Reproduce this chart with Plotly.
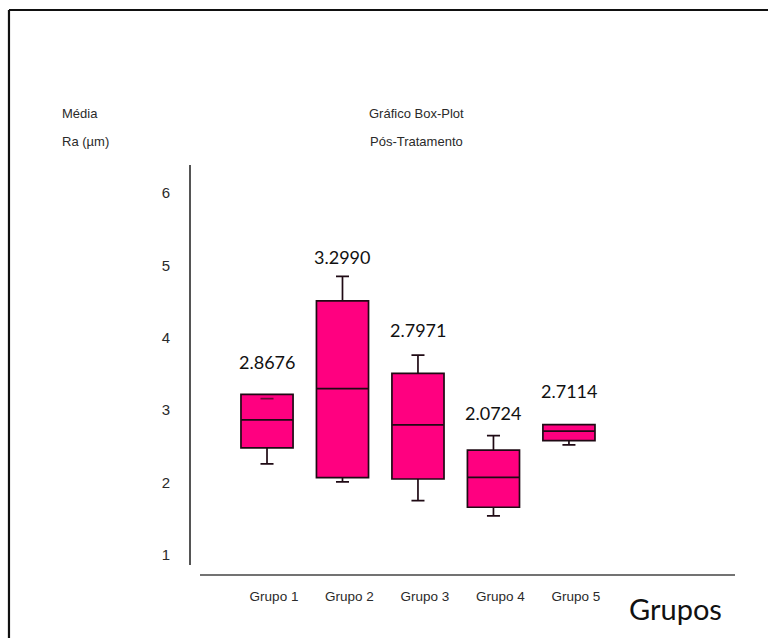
import plotly.graph_objects as go

# Resumo por grupo (Ra em µm, pós-tratamento)
grupos = ["Grupo 1", "Grupo 2", "Grupo 3", "Grupo 4", "Grupo 5"]
minimo = [2.26, 2.01, 1.75, 1.54, 2.52]
q1 = [2.48, 2.07, 2.05, 1.66, 2.58]
mediana = [2.8676, 3.2990, 2.7971, 2.0724, 2.7114]
q3 = [3.22, 4.51, 3.51, 2.45, 2.80]
maximo = [3.16, 4.85, 3.76, 2.65, 2.80]
rotulos = ["2.8676", "3.2990", "2.7971", "2.0724", "2.7114"]
rotulo_y = [3.67, 5.12, 4.11, 2.96, 3.27]
y_ticks = [1, 2, 3, 4, 5, 6]

ROSA = "#FF0080"
TEXTO = "#2a2a2a"
LINHA = "#1f0a14"
FONTE = "Liberation Sans, Arial, sans-serif"
FONTE_ROTULO = "Lato, Open Sans, sans-serif"

LARGURA_CAIXA = 0.69
LARGURA_BIGODE = 0.25

pos = list(range(len(grupos)))

fig = go.Figure()
fig.add_trace(go.Box(
    x=pos,
    q1=q1, median=mediana, q3=q3,
    lowerfence=minimo, upperfence=maximo,
    fillcolor=ROSA,
    line=dict(color=LINHA, width=1.7),
    width=LARGURA_CAIXA,
    whiskerwidth=LARGURA_BIGODE,
    boxpoints=False,
    hoverinfo="skip",
    showlegend=False,
))

# Máximo que fica abaixo do terceiro quartil: traço desenhado dentro da caixa
meia = LARGURA_CAIXA * LARGURA_BIGODE / 2
for i, (mx, q) in enumerate(zip(maximo, q3)):
    if mx < q:
        fig.add_trace(go.Scatter(
            x=[pos[i] - meia, pos[i] + meia], y=[mx, mx],
            mode="lines", line=dict(color="#6a0a36", width=1.7),
            hoverinfo="skip", showlegend=False,
        ))

# Mediana escrita acima de cada caixa
for p, txt, yy in zip(pos, rotulos, rotulo_y):
    fig.add_annotation(x=p, y=yy, text=txt, showarrow=False,
                       font=dict(family=FONTE_ROTULO, size=18, color="#111"))

# Cabeçalhos
cab = dict(showarrow=False, xref="paper", yref="paper",
           font=dict(family=FONTE, size=13, color=TEXTO))
fig.add_annotation(x=-0.24, y=1.13, text="Média", xanchor="left", yanchor="middle", **cab)
fig.add_annotation(x=-0.24, y=1.0575, text="Ra (µm)", xanchor="left", yanchor="middle", **cab)
fig.add_annotation(x=0.414, y=1.13, text="Gráfico Box-Plot", xanchor="center", yanchor="middle", **cab)
fig.add_annotation(x=0.414, y=1.0575, text="Pós-Tratamento", xanchor="center", yanchor="middle", **cab)
fig.add_annotation(x=0.891, y=-0.1075, text="Grupos", xanchor="center", yanchor="middle",
                   showarrow=False, xref="paper", yref="paper",
                   font=dict(family=FONTE_ROTULO, size=29, color="#111"))

# Eixo horizontal deslocado abaixo da área do gráfico
fig.add_shape(type="line", xref="paper", yref="paper",
              x0=0.0165, x1=1.0, y0=-0.025, y1=-0.025,
              line=dict(color="#444", width=1.5))

# Moldura (esquerda e topo)
fig.add_shape(type="line", xref="paper", yref="paper",
              x0=-0.3346, x1=-0.3346, y0=-0.3, y1=1.3875,
              line=dict(color="#111", width=2.2))
fig.add_shape(type="line", xref="paper", yref="paper",
              x0=-0.3346, x1=1.2, y0=1.3875, y1=1.3875,
              line=dict(color="#111", width=2.2))

fig.update_layout(
    width=768, height=638,
    margin=dict(l=191, r=33, t=165, b=73),
    paper_bgcolor="white", plot_bgcolor="white",
    xaxis=dict(
        range=[-1.007, 6.2], tickvals=pos, ticktext=grupos,
        showgrid=False, zeroline=False, showline=False,
        ticks="", ticklabelshift=7, ticklabelstandoff=21,
        tickfont=dict(family=FONTE, size=13.5, color=TEXTO),
    ),
    yaxis=dict(
        range=[0.862, 6.387], tickvals=y_ticks,
        showgrid=False, zeroline=False,
        showline=True, linecolor="#555", linewidth=2,
        ticks="", ticklabelstandoff=16,
        tickfont=dict(family=FONTE, size=15, color=TEXTO),
    ),
)

fig.write_html("out.html")
